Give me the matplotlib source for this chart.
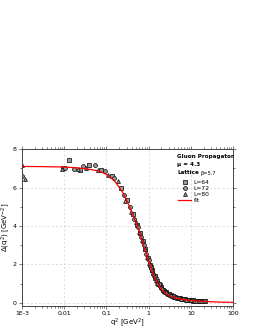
import numpy as np
import matplotlib
matplotlib.use("Agg")
import matplotlib.pyplot as plt
from matplotlib.ticker import FixedLocator, FixedFormatter, LogLocator, NullFormatter, MultipleLocator

# lattice data: q^2 [GeV^2], Delta(q^2) [GeV^-2]
q_64 = [0.0095, 0.013, 0.024, 0.039, 0.073, 0.134, 0.22, 0.31, 0.42, 0.52, 0.62, 0.72,
        0.83, 0.95, 1.08, 1.22, 1.38, 1.55, 1.75, 1.98, 2.25, 2.55, 2.9, 3.3, 3.8,
        4.3, 4.9, 5.6, 6.4, 7.3, 8.4, 9.6, 11.0, 12.6, 14.5, 16.6, 19.0, 21.5,
        1.12, 1.45, 1.82, 2.35, 3.0, 3.95, 5.1, 6.7, 8.8, 11.5, 15.2]
d_64 = [7.00, 7.45, 6.90, 7.15, 6.90, 6.58, 5.97, 5.35, 4.62, 4.05, 3.62, 3.22,
        2.78, 2.35, 1.95, 1.68, 1.40, 1.15, 0.95, 0.80, 0.67, 0.56, 0.47, 0.40, 0.34,
        0.29, 0.25, 0.22, 0.19, 0.17, 0.15, 0.13, 0.12, 0.11, 0.10, 0.09, 0.08, 0.07,
        1.88, 1.30, 0.90, 0.62, 0.45, 0.32, 0.24, 0.18, 0.14, 0.11, 0.09]

q_72 = [0.001, 0.0105, 0.017, 0.028, 0.054, 0.091, 0.155, 0.26, 0.36, 0.46, 0.56, 0.67,
        0.77, 0.89, 1.01, 1.15, 1.30, 1.46, 1.65, 1.86, 2.1, 2.4, 2.7, 3.1, 3.5,
        4.0, 4.6, 5.2, 6.0, 6.9, 7.9, 9.0, 10.3, 11.8, 13.5, 15.5, 17.8, 20.0,
        1.08, 1.40, 1.76, 2.25, 2.9, 3.75, 4.9, 6.4, 8.4, 11.0, 14.5]
d_72 = [6.58, 7.02, 6.98, 7.10, 7.19, 6.84, 6.49, 5.60, 5.00, 4.38, 3.92, 3.40,
        3.00, 2.55, 2.20, 1.82, 1.52, 1.27, 1.05, 0.86, 0.72, 0.60, 0.51, 0.43, 0.37,
        0.31, 0.27, 0.23, 0.20, 0.18, 0.16, 0.14, 0.13, 0.11, 0.10, 0.09, 0.08, 0.07,
        1.98, 1.38, 0.96, 0.66, 0.47, 0.33, 0.25, 0.19, 0.15, 0.12, 0.09]

q_80 = [0.001, 0.0012, 0.0088, 0.021, 0.033, 0.062, 0.11, 0.186, 0.28, 0.39, 0.49, 0.59,
        0.69, 0.80, 0.92, 1.04, 1.18, 1.34, 1.50, 1.70, 1.92, 2.18, 2.47, 2.8, 3.2,
        3.65, 4.15, 4.75, 5.4, 6.2, 7.1, 8.1, 9.3, 10.6, 12.2, 14.0, 16.0, 18.5,
        1.26, 1.62, 2.02, 2.62, 3.45, 4.45, 5.8, 7.6, 10.0, 13.2, 17.2]
d_80 = [7.15, 6.45, 6.98, 6.95, 7.01, 6.93, 6.67, 6.32, 5.30, 4.75, 4.20, 3.70,
        3.25, 2.82, 2.40, 2.05, 1.72, 1.42, 1.20, 0.98, 0.82, 0.68, 0.57, 0.48, 0.41,
        0.35, 0.30, 0.26, 0.22, 0.19, 0.17, 0.15, 0.13, 0.12, 0.11, 0.10, 0.09, 0.08,
        1.55, 1.05, 0.78, 0.54, 0.38, 0.28, 0.21, 0.16, 0.13, 0.10, 0.08]

# fit curve, read at points along the red line
q_fit = [0.001, 0.003, 0.01, 0.02, 0.04, 0.06, 0.09, 0.12, 0.155, 0.2, 0.25, 0.3,
         0.35, 0.4, 0.47, 0.55, 0.64, 0.74, 0.86, 1.0, 1.15, 1.3, 1.55, 1.86, 2.2,
         2.6, 3.1, 3.85, 4.8, 6.0, 7.5, 10, 14, 20, 30, 50, 100]
d_fit = [7.10, 7.09, 7.07, 7.03, 6.95, 6.88, 6.74, 6.56, 6.34, 6.02, 5.70, 5.36,
         5.02, 4.70, 4.33, 3.97, 3.52, 3.08, 2.62, 2.18, 1.78, 1.46, 1.10, 0.80, 0.60,
         0.46, 0.36, 0.28, 0.22, 0.18, 0.15, 0.12, 0.09, 0.07, 0.05, 0.03, 0.02]

x_ticks = [1e-3, 1e-2, 1e-1, 1, 10, 100]
x_labels = ["1E-3", "0,01", "0,1", "1", "10", "100"]
y_ticks = [0, 2, 4, 6, 8]

fig = plt.figure(figsize=(2.55, 3.3), dpi=100)
ax = fig.add_axes([0.086, 0.074, 0.828, 0.474])

mk = dict(ls="none", ms=2.8, mfc="#9a9a9a", mec="#111111", mew=0.55)
h64, = ax.plot(q_64, d_64, marker="s", label="L=64", **mk)
h72, = ax.plot(q_72, d_72, marker="o", label="L=72", **mk)
h80, = ax.plot(q_80, d_80, marker="^", label="L=80", **mk)
hfit, = ax.plot(q_fit, d_fit, color="red", lw=0.9, label="fit", zorder=5)

ax.set_xscale("log")
ax.set_xlim(1e-3, 100)
ax.set_ylim(-0.15, 8)
ax.xaxis.set_major_locator(FixedLocator(x_ticks))
ax.xaxis.set_major_formatter(FixedFormatter(x_labels))
ax.xaxis.set_minor_locator(LogLocator(base=10, subs=np.arange(2, 10)))
ax.xaxis.set_minor_formatter(NullFormatter())
ax.yaxis.set_major_locator(FixedLocator(y_ticks))
ax.yaxis.set_minor_locator(MultipleLocator(1))

ax.grid(True, which="major", ls=(0, (3, 3)), color="#d0d0d0", lw=0.5)
for s in ax.spines.values():
    s.set_color("#444444")
    s.set_linewidth(0.7)
ax.tick_params(which="both", labelsize=4.5, width=0.5, color="#444444", pad=1.2,
               top=True, right=True, direction="out")
ax.tick_params(which="major", length=2.5)
ax.tick_params(which="minor", length=1.5)

ax.set_xlabel("q$^2$ [GeV$^2$]", fontsize=5, labelpad=0.5)
ax.set_ylabel("Δ(q$^2$) [GeV$^{-2}$]", fontsize=5, labelpad=0.5)

ax.text(0.735, 0.97, "Gluon Propagator", transform=ax.transAxes, fontsize=4.1,
        fontweight="bold", va="top")
ax.text(0.735, 0.915, "μ = 4.3", transform=ax.transAxes, fontsize=4.1,
        fontweight="bold", va="top")
ax.text(0.735, 0.865, "Lattice", transform=ax.transAxes, fontsize=4.1,
        fontweight="bold", va="top")
ax.text(0.845, 0.862, "β=5.7", transform=ax.transAxes, fontsize=3.6, va="top")
ax.legend(handles=[h64, h72, h80, hfit], loc="upper left",
          bbox_to_anchor=(0.72, 0.83), frameon=False, fontsize=4.3,
          handlelength=2.2, handletextpad=0.4, labelspacing=0.15, borderpad=0.2)

fig.savefig("out.png", dpi=100)
